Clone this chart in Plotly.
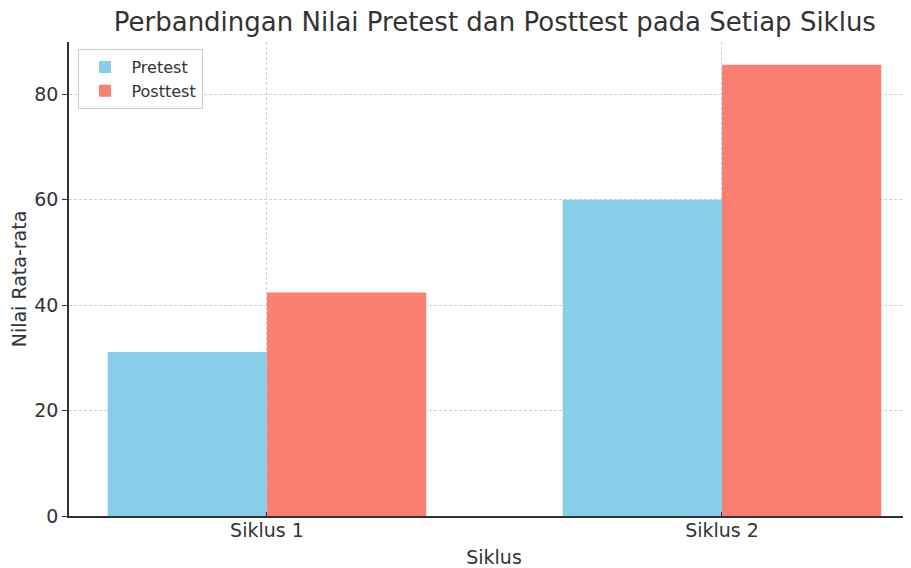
import plotly.graph_objects as go

categories = ["Siklus 1", "Siklus 2"]
pretest = [31.1, 60.0]
posttest = [42.4, 85.6]

FONT = "DejaVu Sans"
TXT = "#333333"

fig = go.Figure()
fig.add_trace(go.Bar(name="Pretest", x=categories, y=pretest, marker_color="#87CEEB",
                     marker_line_width=0))
fig.add_trace(go.Bar(name="Posttest", x=categories, y=posttest, marker_color="#FA8072",
                     marker_line_width=0))

# page body has an 8px default margin; the axes run off the right edge like the reference
fig.update_layout(
    width=911, height=560,
    margin=dict(l=61, r=0, t=34, b=52, autoexpand=False),
    paper_bgcolor="white", plot_bgcolor="white",
    barmode="group", bargap=0.3, bargroupgap=0,
    font=dict(family=FONT, color=TXT, size=19),
    title=dict(text="Perbandingan Nilai Pretest dan Posttest pada Setiap Siklus",
               font=dict(family=FONT, size=26, color=TXT),
               x=0.501, xref="paper", xanchor="center",
               y=0.975, yref="container", yanchor="middle"),
    legend=dict(x=0.01, y=0.985, xanchor="left", yanchor="top",
                bgcolor="rgba(255,255,255,0.85)", bordercolor="#cccccc", borderwidth=1,
                font=dict(family=FONT, size=16, color=TXT),
                itemwidth=43, tracegroupgap=0),
    showlegend=True,
)
fig.update_xaxes(
    range=[-0.435, 1.433],
    automargin=False,
    showline=True, linecolor="#333333", linewidth=1.5,
    ticks="inside", ticklen=4, tickcolor="#333333",
    ticklabelstandoff=-4,
    showgrid=True, gridcolor="#d0d0d0", griddash="3px,2px", gridwidth=1,
    tickfont=dict(family=FONT, size=19, color=TXT),
    title=dict(text="Siklus", font=dict(family=FONT, size=19, color=TXT), standoff=11),
)
fig.update_yaxes(
    range=[0, 89.9],
    automargin=False,
    tickvals=[0, 20, 40, 60, 80],
    showline=True, linecolor="#333333", linewidth=1.5,
    ticks="outside", ticklen=5, tickcolor="#333333",
    showgrid=True, gridcolor="#d0d0d0", griddash="3px,2px", gridwidth=1,
    zeroline=False,
    tickfont=dict(family=FONT, size=19, color=TXT),
    title=dict(text="Nilai Rata-rata", font=dict(family=FONT, size=19, color=TXT), standoff=6),
)

fig.write_html("out.html")
